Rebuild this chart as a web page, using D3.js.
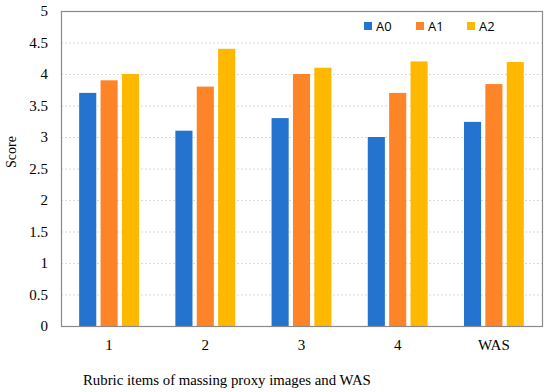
<!DOCTYPE html>
<html><head><meta charset="utf-8">
<script src="https://cdn.jsdelivr.net/npm/d3@7"></script>
<style>body{margin:0;background:#fff}svg{display:block}</style>
</head><body><svg id="c" width="550" height="392"></svg>
<script>
const categories = ["1","2","3","4","WAS"];
const seriesNames = ["A0","A1","A2"];
const A0 = [3.7, 3.1, 3.3, 3.0, 3.24];
const A1 = [3.9, 3.8, 4.0, 3.7, 3.84];
const A2 = [4.0, 4.4, 4.1, 4.2, 4.19];
const yTicks = [0,0.5,1,1.5,2,2.5,3,3.5,4,4.5,5];
const colors = ["#2473CF","#FD8427","#FFB800"];
const series = [A0, A1, A2];

const svg = d3.select("#c");
const m = {l:61, r:8, t:11, b:66};
const W = 550, H = 392;
const x = d3.scaleBand().domain(categories).range([m.l, W-m.r]).paddingInner(0).paddingOuter(0);
const x1 = d3.scaleBand().domain(seriesNames).range([0, x.bandwidth()]).paddingInner(0.2).paddingOuter(0.85);
const y = d3.scaleLinear().domain([0,5]).range([H-m.b, m.t]);

// gridlines
svg.append("g").selectAll("line").data(yTicks.filter(d=>d>0 && d<5)).join("line")
  .attr("x1", m.l).attr("x2", W-m.r).attr("y1", d=>y(d)+0.5).attr("y2", d=>y(d)+0.5)
  .attr("stroke","#d9d9d9").attr("stroke-dasharray","2,2");

// bars
const g = svg.append("g").selectAll("g").data(categories).join("g")
  .attr("transform", d=>`translate(${x(d)},0)`);
g.selectAll("rect").data((d,i)=>series.map((s,k)=>({k, v:s[i]}))).join("rect")
  .attr("x", d=>x1(seriesNames[d.k])).attr("width", x1.bandwidth())
  .attr("y", d=>y(d.v)).attr("height", d=>y(0)-y(d.v))
  .attr("fill", d=>colors[d.k]);

// frame
svg.append("rect").attr("x", m.l+0.5).attr("y", m.t+0.5).attr("width", W-m.r-m.l).attr("height", H-m.b-m.t)
  .attr("fill","none").attr("stroke","#8a8a8a").attr("stroke-width",1.2);

// y axis
const ya = svg.append("g").attr("transform",`translate(${m.l},0)`)
  .call(d3.axisLeft(y).tickValues(yTicks).tickSize(0).tickPadding(13).tickFormat(d3.format("")));
ya.select(".domain").remove();
ya.selectAll("text").attr("font-family","'Liberation Serif', serif").attr("font-size","15px").attr("fill","#000");

// x axis
const xa = svg.append("g").attr("transform",`translate(0,${H-m.b})`)
  .call(d3.axisBottom(x).tickSize(0).tickPadding(13));
xa.select(".domain").remove();
xa.selectAll("text").attr("font-family","'Liberation Serif', serif").attr("font-size","15px").attr("fill","#000");

// axis titles
svg.append("text").attr("transform",`translate(16,152) rotate(-90)`)
  .attr("text-anchor","middle").attr("font-family","'Liberation Serif', serif").attr("font-size","14px").text("Score");
svg.append("text").attr("x",83).attr("y",385)
  .attr("font-family","'Liberation Serif', serif").attr("font-size","14.8px").text("Rubric items of massing proxy images and WAS");

// legend
const legX = [364, 416, 467];
const lg = svg.append("g").selectAll("g").data(seriesNames).join("g")
  .attr("transform",(d,i)=>`translate(${legX[i]},22)`);
lg.append("rect").attr("width",8).attr("height",8).attr("fill",(d,i)=>colors[i]);
lg.append("text").attr("x",12).attr("y",8.5).attr("font-family","'Open Sans', sans-serif").attr("font-size","13px").text(d=>d);
</script></body></html>
